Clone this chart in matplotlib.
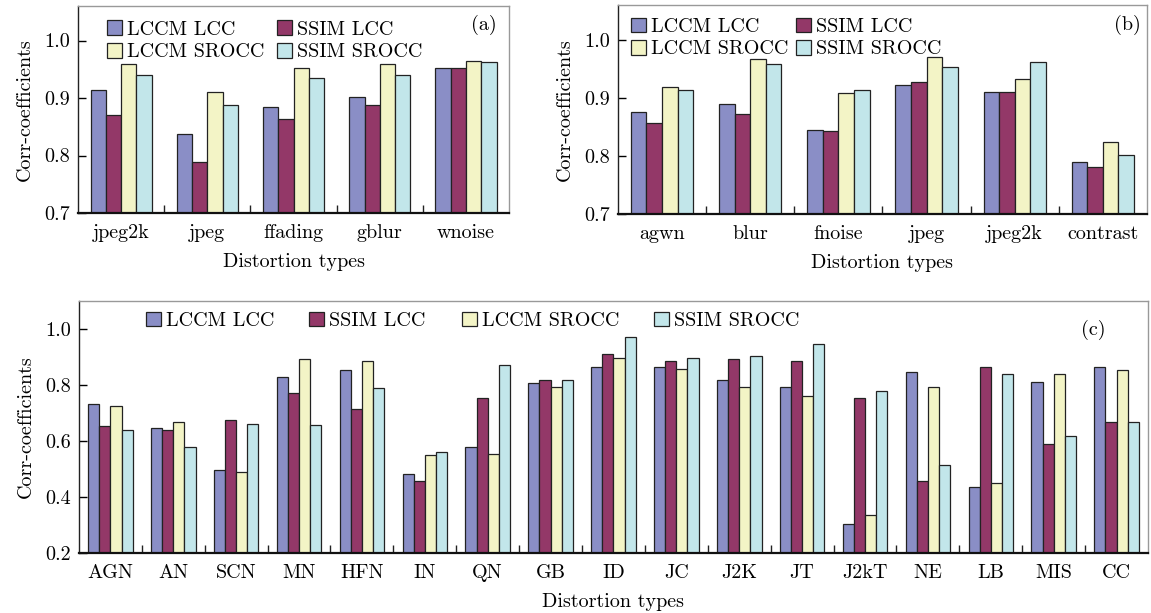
import numpy as np
import matplotlib.pyplot as plt

plt.rcParams['font.family'] = ['cmr10', 'DejaVu Serif']
plt.rcParams['axes.unicode_minus'] = False

series = ['LCCM LCC', 'SSIM LCC', 'LCCM SROCC', 'SSIM SROCC']
colors = ['#8a8ec6', '#933868', '#f3f4c6', '#c2e6ea']
FS = 14.5

# (a) LIVE
types_a = ['jpeg2k', 'jpeg', 'ffading', 'gblur', 'wnoise']
lccm_lcc_a = [0.914, 0.837, 0.884, 0.902, 0.953]
ssim_lcc_a = [0.870, 0.789, 0.863, 0.888, 0.953]
lccm_srocc_a = [0.959, 0.911, 0.953, 0.959, 0.964]
ssim_srocc_a = [0.940, 0.887, 0.935, 0.940, 0.962]

# (b) CSIQ
types_b = ['agwn', 'blur', 'fnoise', 'jpeg', 'jpeg2k', 'contrast']
lccm_lcc_b = [0.876, 0.890, 0.845, 0.922, 0.911, 0.790]
ssim_lcc_b = [0.856, 0.873, 0.843, 0.928, 0.911, 0.781]
lccm_srocc_b = [0.919, 0.967, 0.908, 0.970, 0.933, 0.824]
ssim_srocc_b = [0.914, 0.959, 0.914, 0.953, 0.962, 0.801]

# (c) TID2008
types_c = ['AGN', 'AN', 'SCN', 'MN', 'HFN', 'IN', 'QN', 'GB', 'ID', 'JC',
           'J2K', 'JT', 'J2kT', 'NE', 'LB', 'MIS', 'CC']
lccm_lcc_c = [0.731, 0.645, 0.497, 0.828, 0.852, 0.481, 0.578, 0.806, 0.863,
              0.863, 0.818, 0.794, 0.303, 0.846, 0.435, 0.812, 0.863]
ssim_lcc_c = [0.653, 0.640, 0.675, 0.771, 0.716, 0.457, 0.755, 0.818, 0.909,
              0.886, 0.892, 0.886, 0.755, 0.457, 0.863, 0.589, 0.669]
lccm_srocc_c = [0.726, 0.669, 0.491, 0.892, 0.886, 0.550, 0.554, 0.794, 0.897,
                0.858, 0.794, 0.760, 0.336, 0.794, 0.451, 0.840, 0.852]
ssim_srocc_c = [0.640, 0.577, 0.662, 0.657, 0.789, 0.559, 0.873, 0.818, 0.971,
                0.897, 0.903, 0.946, 0.777, 0.514, 0.840, 0.617, 0.669]

LEG_KW = dict(loc='upper left', frameon=False, fontsize=FS, handlelength=0.75,
              handleheight=0.75, handletextpad=0.25, labelspacing=0.2,
              borderpad=0, borderaxespad=0)


def bar_panel(ax, types, data, ylim, yticks, tag, tag_xy):
    x = np.arange(len(types))
    w = 0.177
    bars = []
    for k, vals in enumerate(data):
        b = ax.bar(x + (k - 1.5) * w, np.array(vals) - ylim[0], w,
                   bottom=ylim[0], color=colors[k], edgecolor='#222222',
                   linewidth=0.9, label=series[k])
        bars.append(b)
    ax.set_xlim(-0.5, len(types) - 0.5)
    ax.set_ylim(*ylim)
    ax.set_yticks(yticks)
    ax.set_yticklabels(['%.1f' % v for v in yticks])
    ax.set_xticks(x)
    ax.set_xticklabels(types)
    ax.set_xticks(np.arange(len(types) - 1) + 0.5, minor=True)
    ax.tick_params(axis='x', which='major', length=0, pad=8, labelsize=FS)
    ax.tick_params(axis='x', which='minor', direction='in', length=6,
                   width=1.0, color='#222222')
    ax.tick_params(axis='y', direction='in', length=6, width=1.0,
                   labelsize=FS, pad=6)
    for s in ['top', 'right']:
        ax.spines[s].set_color('#999999')
        ax.spines[s].set_linewidth(1.0)
    ax.spines['left'].set_color('#222222')
    ax.spines['left'].set_linewidth(1.0)
    ax.spines['bottom'].set_color('#111111')
    ax.spines['bottom'].set_linewidth(1.6)
    ax.set_ylabel('Corr-coefficients', fontsize=FS, labelpad=7)
    ax.set_xlabel('Distortion types', fontsize=FS, labelpad=8)
    ax.text(tag_xy[0], tag_xy[1], tag, transform=ax.transAxes,
            fontsize=FS, ha='center', va='center')
    return bars


def legend_2col(ax, bars, anchor, colsp):
    # filled row by row
    order = [0, 2, 1, 3]
    ax.legend([bars[i] for i in order], [series[i] for i in order], ncol=2,
              bbox_to_anchor=anchor, columnspacing=colsp, **LEG_KW)


def legend_row(ax, bars, xs, y):
    # one legend per entry so each can sit at its own x
    for i, xp in enumerate(xs):
        leg = ax.legend([bars[i]], [series[i]], bbox_to_anchor=(xp, y),
                        **LEG_KW)
        if i < len(xs) - 1:
            ax.add_artist(leg)


fig = plt.figure(figsize=(11.51, 6.13), dpi=100)

ax_a = fig.add_axes([0.0678, 0.6525, 0.3745, 0.3377])
bars_a = bar_panel(ax_a, types_a,
                   [lccm_lcc_a, ssim_lcc_a, lccm_srocc_a, ssim_srocc_a],
                   (0.7, 1.06), [0.7, 0.8, 0.9, 1.0], '(a)', (0.942, 0.908))
legend_2col(ax_a, bars_a, (0.067, 0.93), 0.6)

ax_b = fig.add_axes([0.5369, 0.6509, 0.4596, 0.3409])
bars_b = bar_panel(ax_b, types_b,
                   [lccm_lcc_b, ssim_lcc_b, lccm_srocc_b, ssim_srocc_b],
                   (0.7, 1.06), [0.7, 0.8, 0.9, 1.0], '(b)', (0.964, 0.904))
legend_2col(ax_b, bars_b, (0.025, 0.94), 0.35)

ax_c = fig.add_axes([0.0686, 0.0979, 0.9288, 0.4111])
bars_c = bar_panel(ax_c, types_c,
                   [lccm_lcc_c, ssim_lcc_c, lccm_srocc_c, ssim_srocc_c],
                   (0.2, 1.1), [0.2, 0.4, 0.6, 0.8, 1.0], '(c)',
                   (0.9486, 0.885))
legend_row(ax_c, bars_c, [0.0627, 0.2152, 0.3583, 0.5379], 0.958)

fig.savefig('out.png', dpi=100)
